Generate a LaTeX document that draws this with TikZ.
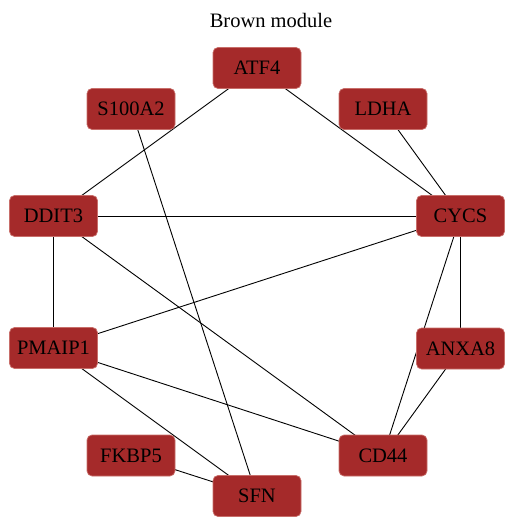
\documentclass[tikz,border=0pt]{standalone}
\usepackage{fontspec}
\setmainfont{Liberation Serif}
\definecolor{nodefill}{HTML}{A52A2A}
\definecolor{nodeedge}{HTML}{C86E6A}
\begin{document}
\begin{tikzpicture}[x=1pt,y=-1pt,
  gene/.style={draw=nodeedge, line width=0.7pt, fill=nodefill, rounded corners=5pt,
    minimum width=88pt, minimum height=41pt, inner sep=0pt,
    font=\fontsize{20.5}{24}\selectfont, text=black},
  link/.style={draw=black, line width=0.9pt}]
\useasboundingbox (0,0) rectangle (508,518);
\node[font=\fontsize{20.5}{24}\selectfont] (title) at (271,20) {Brown module};
% node positions
\coordinate (pATF4) at (257,68);
\coordinate (pS100A2) at (131,109);
\coordinate (pLDHA) at (383,109);
\coordinate (pDDIT3) at (53.5,216);
\coordinate (pCYCS) at (460.5,216);
\coordinate (pPMAIP1) at (53.5,348);
\coordinate (pANXA8) at (460.5,348.5);
\coordinate (pFKBP5) at (131,455.5);
\coordinate (pCD44) at (383,455.5);
\coordinate (pSFN) at (257,496);
% edges (center to center, beneath nodes)
\draw[link] (pATF4) -- (pDDIT3);
\draw[link] (pATF4) -- (pCYCS);
\draw[link] (pS100A2) -- (pSFN);
\draw[link] (pLDHA) -- (pCYCS);
\draw[link] (pDDIT3) -- (pCYCS);
\draw[link] (pDDIT3) -- (pPMAIP1);
\draw[link] (pDDIT3) -- (pCD44);
\draw[link] (pCYCS) -- (pPMAIP1);
\draw[link] (pCYCS) -- (pANXA8);
\draw[link] (pCYCS) -- (pCD44);
\draw[link] (pANXA8) -- (pCD44);
\draw[link] (pPMAIP1) -- (pCD44);
\draw[link] (pPMAIP1) -- (pSFN);
\draw[link] (pFKBP5) -- (pSFN);
% nodes
\node[gene] (ATF4) at (pATF4) {ATF4};
\node[gene] (S100A2) at (pS100A2) {S100A2};
\node[gene] (LDHA) at (pLDHA) {LDHA};
\node[gene] (DDIT3) at (pDDIT3) {DDIT3};
\node[gene] (CYCS) at (pCYCS) {CYCS};
\node[gene] (PMAIP1) at (pPMAIP1) {PMAIP1};
\node[gene] (ANXA8) at (pANXA8) {ANXA8};
\node[gene] (FKBP5) at (pFKBP5) {FKBP5};
\node[gene] (CD44) at (pCD44) {CD44};
\node[gene] (SFN) at (pSFN) {SFN};
\end{tikzpicture}
\end{document}
